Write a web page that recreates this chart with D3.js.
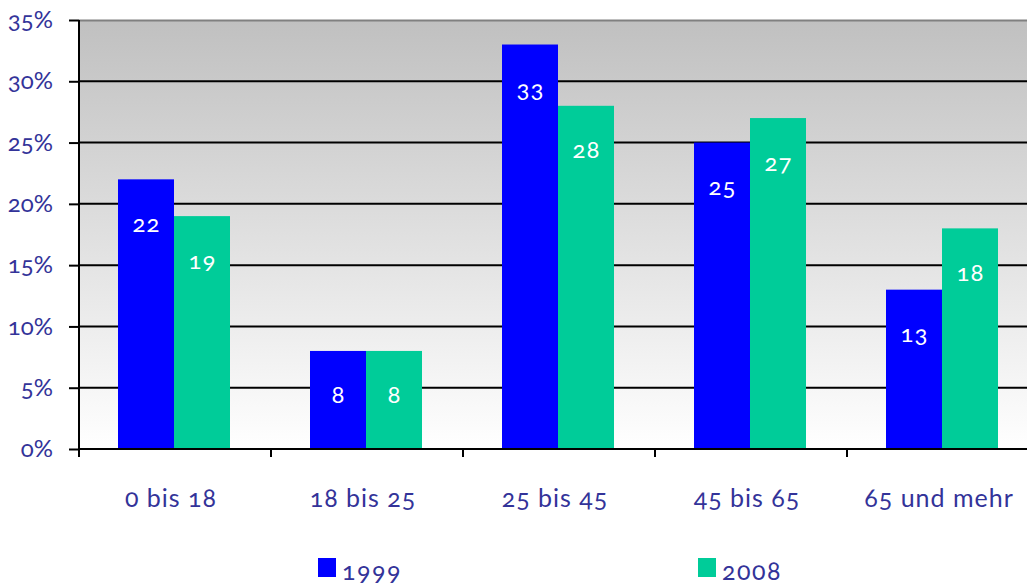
<!DOCTYPE html>
<html>
<head>
<meta charset="utf-8">
<script src="https://cdn.jsdelivr.net/npm/d3@7"></script>
<style>
  html, body { margin: 0; padding: 0; background: #fff; }
  svg { display: block; font-family: Lato, "Open Sans", sans-serif; font-variant-numeric: oldstyle-nums; }
</style>
</head>
<body>
<svg id="chart" width="1027" height="585"></svg>
<script>
// Age groups and their shares (%) in the two survey years
const categories = ["0 bis 18", "18 bis 25", "25 bis 45", "45 bis 65", "65 und mehr"];
const seriesNames = ["1999", "2008"];
const values1999 = [22, 8, 33, 25, 13];
const values2008 = [19, 8, 28, 27, 18];
const yTicks = [0, 5, 10, 15, 20, 25, 30, 35];

const colors = { "1999": "#0000ff", "2008": "#00cc99" };
const textColor = "#333399";

const svg = d3.select("#chart");
const plotLeft = 79, plotTop = 20, plotBottom = 449, bandW = 192;
const plotRight = plotLeft + bandW * categories.length;

const x = d3.scaleBand().domain(categories).range([plotLeft, plotRight]);
// bar pair: 112px wide, centred within each 192px category band
const xs = d3.scaleBand().domain(seriesNames).range([39, bandW - 41]);
const y = d3.scaleLinear().domain([0, 35]).range([plotBottom, plotTop]);

// plot background gradient
const defs = svg.append("defs");
const grad = defs.append("linearGradient").attr("id", "bg").attr("x1", 0).attr("y1", 0).attr("x2", 0).attr("y2", 1);
grad.append("stop").attr("offset", "0%").attr("stop-color", "#c0c0c0");
grad.append("stop").attr("offset", "100%").attr("stop-color", "#ffffff");

svg.append("rect")
  .attr("x", plotLeft).attr("y", plotTop)
  .attr("width", plotRight - plotLeft).attr("height", plotBottom - plotTop)
  .attr("fill", "url(#bg)");

// top border
svg.append("line")
  .attr("x1", plotLeft).attr("x2", plotRight).attr("y1", plotTop + 0.5).attr("y2", plotTop + 0.5)
  .attr("stroke", "#808080").attr("stroke-width", 2);

// horizontal gridlines
svg.append("g").selectAll("line")
  .data(yTicks.filter(d => d > 0 && d < 35))
  .join("line")
  .attr("x1", plotLeft).attr("x2", plotRight)
  .attr("y1", d => y(d)).attr("y2", d => y(d))
  .attr("stroke", "#000").attr("stroke-width", 2);

// bars
const rows = categories.map((c, i) => ({ cat: c, vals: [
  { s: "1999", v: values1999[i] },
  { s: "2008", v: values2008[i] }
]}));

const groups = svg.append("g").selectAll("g")
  .data(rows).join("g")
  .attr("transform", d => `translate(${x(d.cat)},0)`);

groups.selectAll("rect")
  .data(d => d.vals).join("rect")
  .attr("x", d => xs(d.s))
  .attr("width", xs.bandwidth())
  .attr("y", d => y(d.v))
  .attr("height", d => y(0) - y(d.v))
  .attr("fill", d => colors[d.s]);

groups.selectAll("text")
  .data(d => d.vals).join("text")
  .attr("x", d => xs(d.s) + xs.bandwidth() / 2 + 0.5)
  .attr("y", d => y(d.v) + 43)
  .attr("text-anchor", "middle")
  .attr("dominant-baseline", "central")
  .attr("fill", "#fff")
  .attr("font-size", 24)
  .attr("letter-spacing", 1)
  .text(d => d.v);

// y axis
const yAxis = d3.axisLeft(y).tickValues(yTicks).tickSize(10).tickPadding(16).tickFormat(d => d + "%");
const gy = svg.append("g").attr("transform", `translate(${plotLeft},0)`).call(yAxis);
gy.select(".domain").attr("stroke", "#000").attr("stroke-width", 2).attr("d", `M0,${plotTop}V${plotBottom}`);
gy.selectAll(".tick line").attr("stroke", "#000").attr("stroke-width", 2);
gy.selectAll(".tick text").attr("fill", textColor).attr("font-size", 24).attr("font-family", "Lato, sans-serif");

// x axis: ticks at band boundaries
const gx = svg.append("g").attr("transform", `translate(0,${plotBottom})`);
gx.append("line").attr("x1", plotLeft).attr("x2", plotRight).attr("stroke", "#000").attr("stroke-width", 2);
gx.selectAll(".bt")
  .data(categories).join("line")
  .attr("class", "bt")
  .attr("x1", d => x(d)).attr("x2", d => x(d))
  .attr("y1", 0).attr("y2", 8)
  .attr("stroke", "#000").attr("stroke-width", 2);
gx.selectAll(".cl")
  .data(categories).join("text")
  .attr("class", "cl")
  .attr("x", d => x(d) + x.bandwidth() / 2 - 4)
  .attr("y", 48)
  .attr("text-anchor", "middle")
  .attr("dominant-baseline", "central")
  .attr("fill", textColor)
  .attr("font-size", 25)
  .attr("letter-spacing", 1)
  .text(d => d);

// legend
const legendPos = [318, 698];
const lg = svg.append("g").selectAll("g")
  .data(seriesNames).join("g")
  .attr("transform", (d, i) => `translate(${legendPos[i]},558)`);
lg.append("rect").attr("width", 18).attr("height", 19).attr("fill", d => colors[d]);
lg.append("text")
  .attr("x", 24).attr("y", 12)
  .attr("dominant-baseline", "central")
  .attr("fill", textColor)
  .attr("font-size", 25)
  .attr("letter-spacing", 1.5)
  .text(d => d);
</script>
</body>
</html>
